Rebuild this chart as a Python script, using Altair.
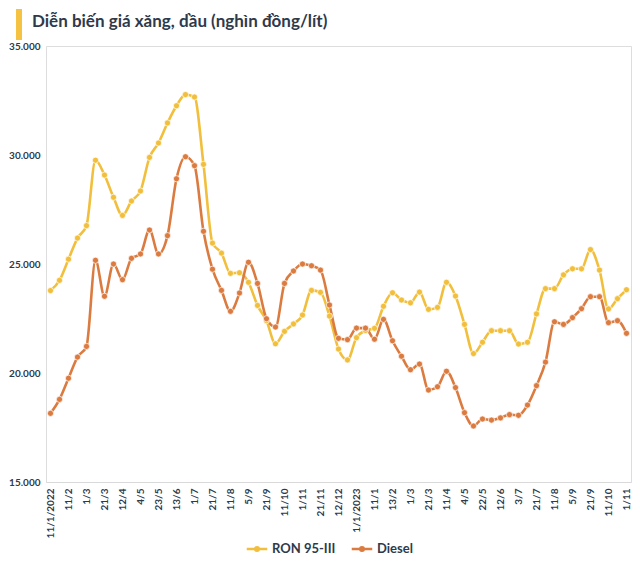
import json
import altair as alt
import pandas as pd

# ---- data (values in đồng/lít) ----
dates = [
    "11/1/2022", "21/1", "11/2", "21/2", "1/3", "11/3", "21/3", "1/4", "12/4", "21/4",
    "4/5", "12/5", "23/5", "1/6", "13/6", "21/6", "1/7", "11/7", "21/7", "1/8",
    "11/8", "22/8", "5/9", "12/9", "21/9", "3/10", "11/10", "21/10", "1/11", "11/11",
    "21/11", "1/12", "12/12", "21/12", "1/1/2023", "3/1", "11/1", "30/1", "13/2", "21/2",
    "1/3", "13/3", "21/3", "3/4", "11/4", "21/4", "4/5", "11/5", "22/5", "1/6",
    "12/6", "21/6", "3/7", "11/7", "21/7", "1/8", "11/8", "21/8", "5/9", "11/9",
    "21/9", "2/10", "11/10", "23/10", "1/11",
]

ron95 = [
    23780, 24250, 25220, 26190, 26760, 29760, 29080, 28060, 27230, 27890,
    28350, 29890, 30550, 31470, 32260, 32770, 32660, 29570, 25960, 25500,
    24570, 24600, 24160, 23100, 22400, 21340, 21910, 22250, 22660, 23790,
    23700, 22610, 21100, 20600, 21620, 21950, 22050, 23060, 23680, 23350,
    23220, 23710, 22920, 23010, 24160, 23530, 22230, 20890, 21410, 21940,
    21940, 21940, 21330, 21410, 22710, 23870, 23870, 24500, 24780, 24780,
    25660, 24720, 22940, 23410, 23820,
]

diesel = [
    18150, 18790, 19760, 20730, 21220, 25170, 23520, 25000, 24280, 25260,
    25460, 26560, 25460, 26300, 28910, 29920, 29510, 26500, 24760, 23790,
    22830, 23670, 25080, 24110, 22490, 22110, 24110, 24680, 25000, 24920,
    24720, 23120, 21590, 21530, 22060, 22060, 21550, 22460, 21480, 20770,
    20150, 20410, 19220, 19370, 20080, 19330, 18180, 17570, 17890, 17840,
    17940, 18090, 18060, 18530, 19420, 20500, 22350, 22230, 22540, 22950,
    23500, 23500, 22310, 22400, 21820,
]

series_names = ["RON 95-III", "Diesel"]
series_colors = ["#F2BF3C", "#DB7B3F"]
title_text = ["Diễn biến giá xăng, dầu (nghìn đồng/lít)"]

rows = []
for i, d in enumerate(dates):
    rows.append({"i": i, "date": d, "series": series_names[0], "value": ron95[i]})
    rows.append({"i": i, "date": d, "series": series_names[1], "value": diesel[i]})
df = pd.DataFrame(rows)

FONT = "Lato"
TXT = "#2E3A4B"

label_values = list(range(0, len(dates), 2))
label_expr = json.dumps(dates, ensure_ascii=False) + "[datum.value]"

x_enc = alt.X(
    "i:O",
    scale=alt.Scale(padding=0.5),
    axis=alt.Axis(
        values=label_values,
        labelExpr=label_expr,
        labelAngle=-90,
        ticks=False,
        grid=False,
        domainColor="#D9D9D9",
        domainWidth=1,
        labelFont=FONT,
        labelFontSize=10,
        labelFontWeight="bold",
        labelColor=TXT,
        labelPadding=6,
        title=None,
    ),
)

y_enc = alt.Y(
    "value:Q",
    scale=alt.Scale(domain=[15000, 35000], nice=False, zero=False),
    axis=alt.Axis(
        values=[15000, 20000, 25000, 30000, 35000],
        labelExpr="replace(format(datum.value, ','), ',', '.')",
        ticks=False,
        grid=False,
        domain=False,
        labelFont=FONT,
        labelFontSize=10,
        labelFontWeight="bold",
        labelColor=TXT,
        labelPadding=6,
        title=None,
    ),
)

color_scale = alt.Scale(domain=series_names, range=series_colors)

sym_path = ("M-1,0L1,0M-0.17,0A0.17,0.17,0,1,1,0.17,0"
            "A0.17,0.17,0,1,1,-0.17,0Z")

lines = alt.Chart(df).mark_line(strokeWidth=2.6, interpolate="monotone").encode(
    x=x_enc,
    y=y_enc,
    stroke=alt.Stroke(
        "series:N",
        scale=color_scale,
        sort=series_names,
        legend=alt.Legend(
            orient="none",
            legendX=199,
            legendY=491,
            direction="horizontal",
            title=None,
            symbolType=sym_path,
            symbolSize=420,
            symbolStrokeWidth=2.6,
            labelFont=FONT,
            labelFontSize=13,
            labelFontWeight="bold",
            labelColor=TXT,
            labelOffset=3,
            columnPadding=10,
        ),
    ),
    detail="series:N",
)

points = alt.Chart(df).mark_circle(size=38, opacity=1, stroke="white", strokeWidth=0.7).encode(
    x=x_enc,
    y=y_enc,
    fill=alt.Fill("series:N", scale=color_scale, legend=None),
)

accent = alt.Chart(pd.DataFrame({"k": [0]})).mark_rule(
    color="#F5C242", strokeWidth=6
).encode(
    x=alt.value(-27),
    y=alt.value(-37),
    y2=alt.value(-6),
)

title = alt.Chart(pd.DataFrame({"t": title_text})).mark_text(
    align="left", baseline="middle", font=FONT, fontSize=17,
    fontWeight="bold", color=TXT,
).encode(
    text="t:N",
    x=alt.value(-14),
    y=alt.value(-24),
)

chart = alt.layer(lines, points, accent, title).properties(
    width=585,
    height=436,
    autosize=alt.AutoSizeParams(type="none"),
    padding={"left": 38, "top": 38, "right": 1, "bottom": 76},
).configure_view(stroke=None).configure(background="white")

chart.save("out.html", embed_options={"renderer": "svg", "actions": False})
